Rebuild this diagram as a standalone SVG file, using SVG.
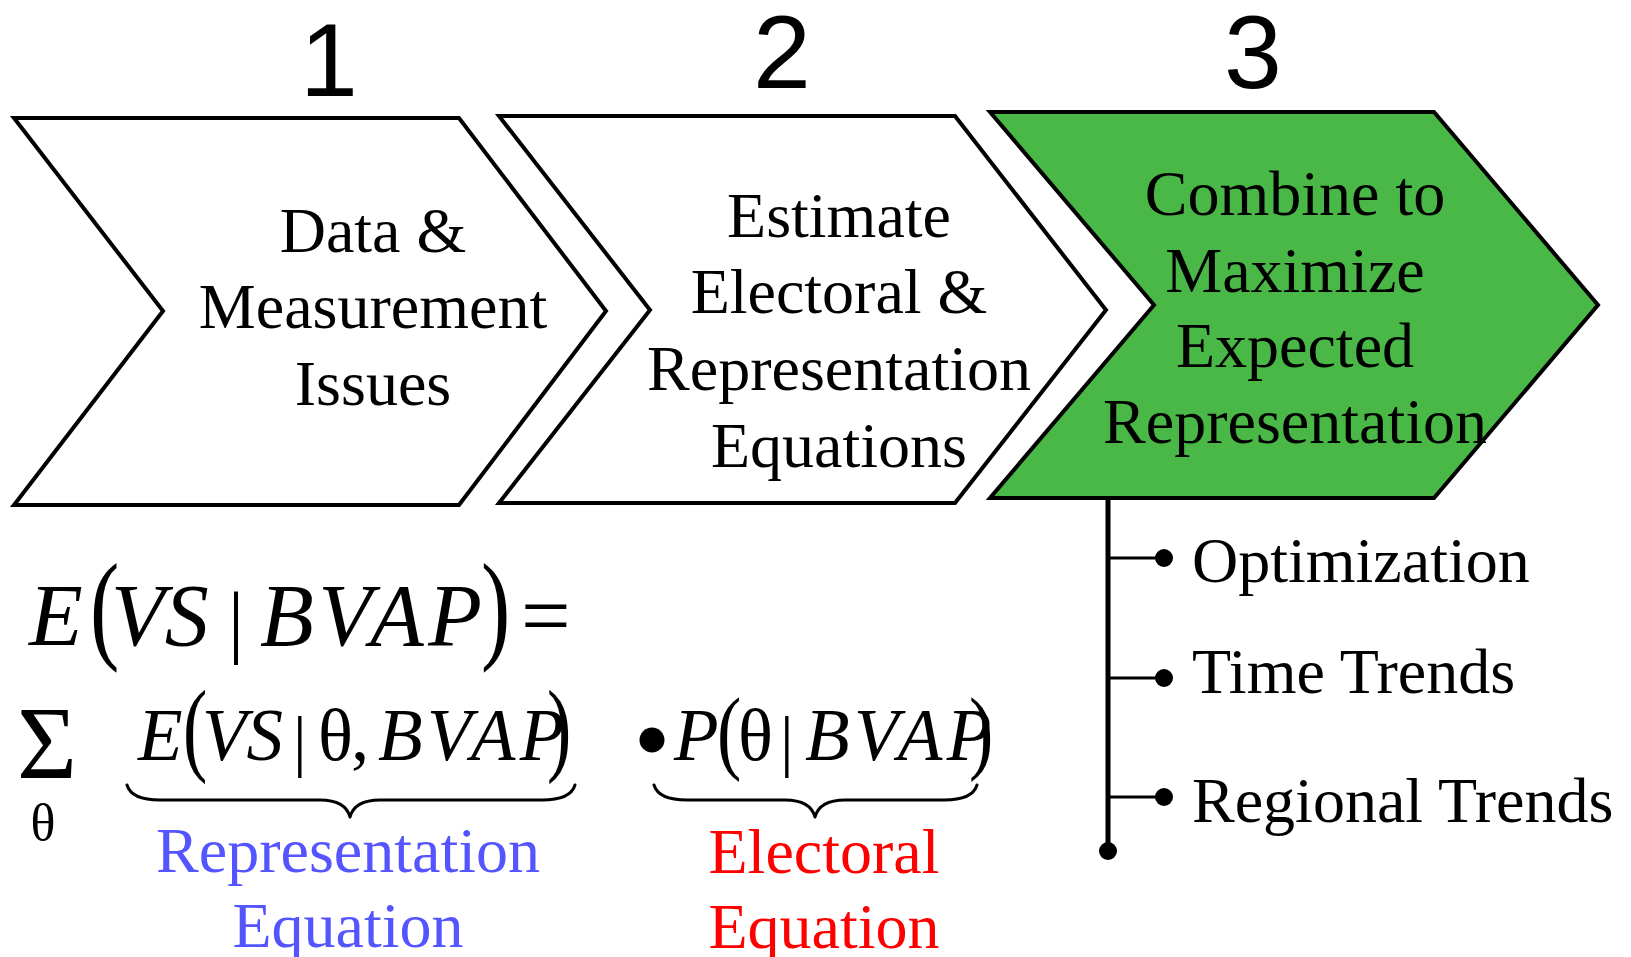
<svg xmlns="http://www.w3.org/2000/svg" width="1631" height="957" viewBox="0 0 1631 957">
  <style>
    .num { font-family: "Liberation Sans", Arial, sans-serif; font-size: 104px; fill: #000; text-anchor: middle; }
    .step { fill: #fff; stroke: #000; stroke-width: 4; stroke-linejoin: miter; }
    .step.active { fill: #4ab847; }
    .lbl { font-family: "Liberation Serif", "Times New Roman", serif; font-size: 64px; fill: #000; text-anchor: middle; }
    .item { font-family: "Liberation Serif", "Times New Roman", serif; font-size: 64px; fill: #000; }
    .m { font-family: "Liberation Serif", "Times New Roman", serif; fill: #000; }
    .it { font-style: italic; }
    .wide { letter-spacing: 4.5px; }
    .brace { fill: none; stroke: #000; stroke-width: 3; stroke-linecap: round; stroke-linejoin: round; }
    .wire { stroke: #000; fill: none; }
    .blue { fill: #5555ff; }
    .red { fill: #ff0000; }
  </style>

  <!-- step numbers -->
  <text class="num" x="329" y="96">1</text>
  <text class="num" x="782" y="88">2</text>
  <text class="num" x="1253" y="88">3</text>

  <!-- step 1 -->
  <g id="step1">
    <polygon class="step" points="14,118 459,118 606,311 459,505 14,505 163,311"/>
    <text class="lbl" x="373" y="252">Data &amp;</text>
    <text class="lbl" x="373" y="328">Measurement</text>
    <text class="lbl" x="373" y="405">Issues</text>
  </g>

  <!-- step 2 -->
  <g id="step2">
    <polygon class="step" points="499,116 955,116 1106,310 955,503 499,503 650,310"/>
    <text class="lbl" x="839" y="237">Estimate</text>
    <text class="lbl" x="839" y="313">Electoral &amp;</text>
    <text class="lbl" x="839" y="390">Representation</text>
    <text class="lbl" x="839" y="467">Equations</text>
  </g>

  <!-- step 3 -->
  <g id="step3">
    <polygon class="step active" points="990,112 1434,112 1598,305 1434,498 990,498 1154,305"/>
    <text class="lbl" x="1295" y="215">Combine to</text>
    <text class="lbl" x="1295" y="292">Maximize</text>
    <text class="lbl" x="1295" y="367">Expected</text>
    <text class="lbl" x="1295" y="443">Representation</text>
  </g>

  <!-- outcome list hanging off step 3 -->
  <g id="connectors">
    <line class="wire" x1="1108" y1="497" x2="1108" y2="851" stroke-width="5"/>
    <circle cx="1108" cy="851" r="9"/>
    <line class="wire" x1="1108" y1="558" x2="1164" y2="558" stroke-width="3"/>
    <circle cx="1164" cy="558" r="9"/>
    <line class="wire" x1="1108" y1="678" x2="1164" y2="678" stroke-width="3"/>
    <circle cx="1164" cy="678" r="9"/>
    <line class="wire" x1="1108" y1="797" x2="1164" y2="797" stroke-width="3"/>
    <circle cx="1164" cy="797" r="9"/>
  </g>
  <g id="item-optimization"><text class="item" x="1192" y="582">Optimization</text></g>
  <g id="item-time"><text class="item" x="1192" y="693">Time Trends</text></g>
  <g id="item-regional"><text class="item" x="1192" y="822">Regional Trends</text></g>

  <!-- E(VS | BVAP) = -->
  <g id="formula-top">
    <text class="m it" x="29" y="645" font-size="88">E</text>
    <text class="m" transform="translate(90,646.7) scale(1,1.37)" font-size="88">(</text>
    <text class="m it" x="111" y="645" font-size="88">VS</text>
    <text class="m" x="228" y="648" font-size="80">|</text>
    <text class="m it wide" x="260" y="645" font-size="88">BVAP</text>
    <text class="m" transform="translate(481,646.7) scale(1,1.37)" font-size="88">)</text>
    <text class="m" x="521" y="645" font-size="88">=</text>
  </g>

  <!-- sum over theta -->
  <g id="formula-sum">
    <text class="m" x="17" y="778" font-size="103">Σ</text>
    <text class="m" x="43" y="840" font-size="52" text-anchor="middle">θ</text>
  </g>

  <!-- representation term -->
  <g id="term-representation">
    <text class="m it" x="138" y="760" font-size="73">E</text>
    <text class="m" transform="translate(183,761.8) scale(1,1.41)" font-size="73">(</text>
    <text class="m it" x="202" y="760" font-size="73">VS</text>
    <text class="m" x="293" y="764" font-size="68">|</text>
    <text class="m" x="318" y="760" font-size="73">θ</text>
    <text class="m" x="351" y="760" font-size="73">,</text>
    <text class="m it wide" x="378" y="760" font-size="73">BVAP</text>
    <text class="m" transform="translate(547,761.8) scale(1,1.41)" font-size="73">)</text>
    <path class="brace" d="M127,785 C130,795 140,800 160,800 L320,800 C338,800 347,806 350,817 C353,806 362,800 380,800 L542,800 C562,800 572,795 575,785"/>
    <text class="lbl blue" x="348" y="872">Representation</text>
    <text class="lbl blue" x="348" y="947">Equation</text>
  </g>

  <!-- electoral term -->
  <g id="term-electoral">
    <circle cx="652" cy="740" r="12.5"/>
    <text class="m it" x="674" y="760" font-size="73">P</text>
    <text class="m" transform="translate(717,761.5) scale(1,1.28)" font-size="73">(</text>
    <text class="m" x="738" y="760" font-size="73">θ</text>
    <text class="m" x="780" y="764" font-size="68">|</text>
    <text class="m it wide" x="805" y="760" font-size="73">BVAP</text>
    <text class="m" transform="translate(969,761.5) scale(1,1.28)" font-size="73">)</text>
    <path class="brace" d="M654,785 C657,795 667,800 687,800 L785,800 C803,800 812,806 815,817 C818,806 827,800 845,800 L944,800 C964,800 974,795 977,785"/>
    <text class="lbl red" x="824" y="873">Electoral</text>
    <text class="lbl red" x="824" y="948">Equation</text>
  </g>
</svg>
